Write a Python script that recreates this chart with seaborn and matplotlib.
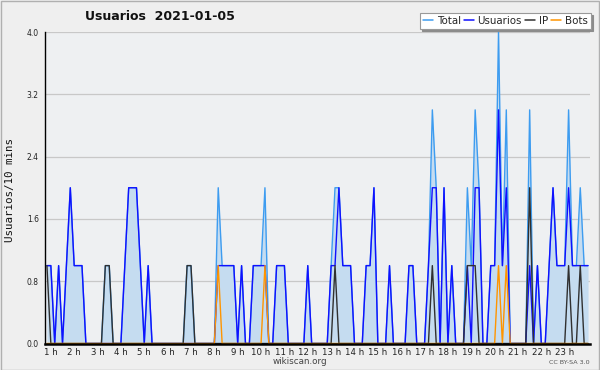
import matplotlib
matplotlib.use("Agg")
import matplotlib.pyplot as plt
import pandas as pd
import seaborn as sns
from matplotlib.ticker import FixedLocator, MultipleLocator
from matplotlib.lines import Line2D
from matplotlib.patches import Rectangle

# ---------------- data ----------------
title = "Usuarios  2021-01-05"
y_label = "Usuarios/10 mins"
series_names = ["Total", "Usuarios", "IP", "Bots"]
series_colors = ["#3d9cf0", "#1010ff", "#303030", "#ff9500"]
first_slot_minute = 50      # first 10-minute slot shown (00:50)
slot_minutes = 10
hour_ticks = list(range(1, 24))
hour_labels = [f"{h} h" for h in hour_ticks]
y_ticks = [0.0, 0.8, 1.6, 2.4, 3.2, 4.0]
y_tick_labels = ["0.0", "0.8", "1.6", "2.4", "3.2", "4.0"]

total = [1, 1, 0, 1, 0, 1, 2, 1, 1, 1,
         0, 0, 0, 0, 0, 1, 1, 0, 0, 0,
         1, 2, 2, 2, 1, 0, 1, 0, 0, 0,
         0, 0, 0, 0, 0, 0, 1, 1, 0, 0,
         0, 0, 0, 0, 2, 1, 1, 1, 1, 0,
         1, 0, 0, 1, 1, 1, 2, 0, 0, 1,
         1, 1, 0, 0, 0, 0, 0, 1, 0, 0,
         0, 0, 0, 1, 2, 2, 1, 1, 1, 0,
         0, 0, 1, 1, 2, 0, 0, 0, 1, 0,
         0, 0, 0, 1, 1, 0, 0, 0, 1, 3,
         2, 0, 2, 0, 1, 0, 0, 0, 2, 1,
         3, 2, 0, 0, 1, 1, 4, 1, 3, 0,
         0, 0, 0, 0, 3, 0, 1, 0, 0, 1,
         2, 1, 1, 1, 3, 1, 1, 2, 1, 1]

usuarios = [1, 1, 0, 1, 0, 1, 2, 1, 1, 1,
            0, 0, 0, 0, 0, 0, 0, 0, 0, 0,
            1, 2, 2, 2, 1, 0, 1, 0, 0, 0,
            0, 0, 0, 0, 0, 0, 0, 0, 0, 0,
            0, 0, 0, 0, 1, 1, 1, 1, 1, 0,
            1, 0, 0, 1, 1, 1, 1, 0, 0, 1,
            1, 1, 0, 0, 0, 0, 0, 1, 0, 0,
            0, 0, 0, 1, 1, 2, 1, 1, 1, 0,
            0, 0, 1, 1, 2, 0, 0, 0, 1, 0,
            0, 0, 0, 1, 1, 0, 0, 0, 1, 2,
            2, 0, 2, 0, 1, 0, 0, 0, 1, 0,
            2, 2, 0, 0, 1, 1, 3, 1, 2, 0,
            0, 0, 0, 0, 1, 0, 1, 0, 0, 1,
            2, 1, 1, 1, 2, 1, 1, 1, 1, 1]

ip = [1, 0, 0, 0, 0, 0, 0, 0, 0, 0,
      0, 0, 0, 0, 0, 1, 1, 0, 0, 0,
      0, 0, 0, 0, 0, 0, 0, 0, 0, 0,
      0, 0, 0, 0, 0, 0, 1, 1, 0, 0,
      0, 0, 0, 0, 0, 0, 0, 0, 0, 0,
      0, 0, 0, 0, 0, 0, 0, 0, 0, 0,
      0, 0, 0, 0, 0, 0, 0, 0, 0, 0,
      0, 0, 0, 0, 1, 0, 0, 0, 0, 0,
      0, 0, 0, 0, 0, 0, 0, 0, 0, 0,
      0, 0, 0, 0, 0, 0, 0, 0, 0, 1,
      0, 0, 0, 0, 0, 0, 0, 0, 1, 1,
      1, 0, 0, 0, 0, 0, 0, 0, 0, 0,
      0, 0, 0, 0, 2, 0, 0, 0, 0, 0,
      0, 0, 0, 0, 1, 0, 0, 1, 0, 0]

bots = [0, 0, 0, 0, 0, 0, 0, 0, 0, 0,
        0, 0, 0, 0, 0, 0, 0, 0, 0, 0,
        0, 0, 0, 0, 0, 0, 0, 0, 0, 0,
        0, 0, 0, 0, 0, 0, 0, 0, 0, 0,
        0, 0, 0, 0, 1, 0, 0, 0, 0, 0,
        0, 0, 0, 0, 0, 0, 1, 0, 0, 0,
        0, 0, 0, 0, 0, 0, 0, 0, 0, 0,
        0, 0, 0, 0, 0, 0, 0, 0, 0, 0,
        0, 0, 0, 0, 0, 0, 0, 0, 0, 0,
        0, 0, 0, 0, 0, 0, 0, 0, 0, 0,
        0, 0, 0, 0, 0, 0, 0, 0, 0, 0,
        0, 0, 0, 0, 0, 0, 1, 0, 1, 0,
        0, 0, 0, 0, 0, 0, 0, 0, 0, 0,
        0, 0, 0, 0, 0, 0, 0, 0, 0, 0]

# --------------- frame ----------------
hours = [(first_slot_minute + slot_minutes * i) / 60 for i in range(len(total))]
df = pd.DataFrame({"hora": hours, "Total": total, "Usuarios": usuarios,
                   "IP": ip, "Bots": bots})
long = df.melt(id_vars="hora", var_name="serie", value_name="valor")

sns.set_theme(style="white")
plt.rcParams["font.family"] = ["DejaVu Sans"]

W, H = 600, 370
fig = plt.figure(figsize=(W / 100, H / 100), dpi=100, facecolor="#efefef")
fig.patches.append(Rectangle((0.5 / W, 0.5 / H), 1 - 1.5 / W, 1 - 1.5 / H,
                             transform=fig.transFigure, fill=False,
                             edgecolor="#b0b0b0", lw=1.0, zorder=10))

left, right, top, bottom = 45, 590, 32, 343.5
ax = fig.add_axes([left / W, 1 - bottom / H, (right - left) / W, (bottom - top) / H])
ax.set_facecolor("#eef0f2")

half = slot_minutes / 60 / 2
ax.fill_between(df["hora"], df["Total"], 0, color="#c5dcf0", lw=0, zorder=1)
sns.lineplot(data=long, x="hora", y="valor", hue="serie",
             hue_order=series_names, palette=series_colors,
             linewidth=1.0, ax=ax, legend=False, zorder=3)

ax.set_xlim(hours[0] - half, hours[-1] + half)
ax.set_ylim(0, 4.0)

ax.yaxis.set_major_locator(FixedLocator(y_ticks))
ax.set_yticklabels(y_tick_labels)
ax.yaxis.set_minor_locator(MultipleLocator(0.2))
ax.xaxis.set_major_locator(FixedLocator(hour_ticks))
ax.set_xticklabels(hour_labels)
ax.xaxis.set_minor_locator(MultipleLocator(1 / 6))

ax.yaxis.grid(True, which="major", color="#c8c8c8", lw=0.9)
ax.xaxis.grid(False)
ax.set_axisbelow(True)

for s in ["top", "right"]:
    ax.spines[s].set_visible(False)
ax.spines["left"].set_color("black")
ax.spines["left"].set_linewidth(1.0)
ax.spines["bottom"].set_color("black")
ax.spines["bottom"].set_linewidth(1.8)
for s in ["left", "bottom"]:
    ax.spines[s].set_zorder(6)

ax.tick_params(axis="y", which="both", direction="out", length=3, width=0.8,
               color="black", labelsize=5.5, pad=1.5, labelcolor="#222222")
ax.tick_params(axis="x", which="both", direction="out", length=3, width=0.8,
               color="black", labelsize=6.2, pad=0.5, labelcolor="#222222")
ax.set_xlabel("")
ax.set_ylabel("")

fig.text(10 / W, 1 - 190 / H, y_label, rotation=90, ha="center", va="center",
         fontsize=7.8, family="DejaVu Sans Mono", color="#111111")
fig.text(85 / W, 1 - 17 / H, title, ha="left", va="center",
         fontsize=9, fontweight="bold", color="#111111")
fig.text(300 / W, 1 - 362 / H, "wikiscan.org", ha="center", va="center",
         fontsize=6.3, color="#444444")
fig.text(590 / W, 1 - 362 / H, "CC BY-SA 3.0", ha="right", va="center",
         fontsize=4.6, color="#555555")

handles = [Line2D([0], [0], color=c, lw=1.1) for c in series_colors]
leg = fig.legend(handles, series_names, loc="upper right",
                 bbox_to_anchor=(591 / W, 1 - 13 / H), ncol=4,
                 fontsize=7.4, frameon=True, fancybox=False,
                 shadow={"color": "#8c8c8c", "alpha": 1.0, "ox": 1.5, "oy": -1.5},
                 handlelength=1.0, handletextpad=0.35, columnspacing=0.3,
                 borderpad=0.3, borderaxespad=0)
leg.get_frame().set_edgecolor("#999999")
leg.get_frame().set_facecolor("white")
leg.get_frame().set_linewidth(0.8)

fig.savefig("out.png", dpi=100, facecolor=fig.get_facecolor())
